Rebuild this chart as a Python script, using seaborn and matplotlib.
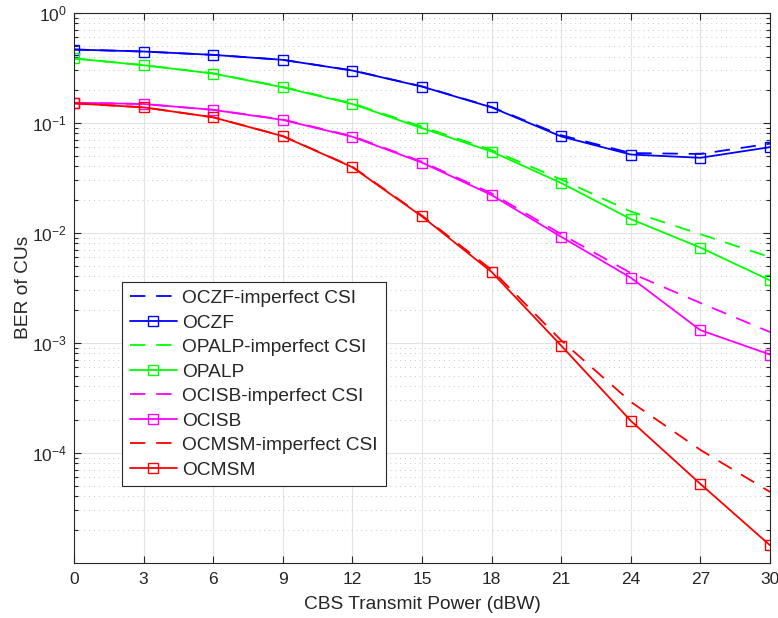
import numpy as np
import pandas as pd
import matplotlib
matplotlib.use("Agg")
import matplotlib.pyplot as plt
import matplotlib.ticker as mticker
import seaborn as sns

# Data
power = [0, 3, 6, 9, 12, 15, 18, 21, 24, 27, 30]

oczf_imp = [0.463, 0.444, 0.414, 0.373, 0.299, 0.214, 0.139, 0.077, 0.053, 0.052, 0.0645]
oczf = [0.463, 0.444, 0.414, 0.373, 0.298, 0.213, 0.138, 0.075, 0.0514, 0.048, 0.060]
opalp_imp = [0.384, 0.334, 0.281, 0.212, 0.150, 0.092, 0.0565, 0.0305, 0.0156, 0.0097, 0.0060]
opalp = [0.384, 0.333, 0.280, 0.210, 0.148, 0.0893, 0.0547, 0.0283, 0.0133, 0.00733, 0.00369]
ocisb_imp = [0.152, 0.148, 0.131, 0.107, 0.0755, 0.0442, 0.0228, 0.0097, 0.0043, 0.0023, 0.00125]
ocisb = [0.152, 0.148, 0.131, 0.106, 0.0745, 0.0434, 0.022, 0.00918, 0.0039, 0.0013, 0.00078]
ocmsm_imp = [0.150, 0.138, 0.112, 0.0758, 0.0398, 0.0143, 0.0046, 0.00105, 2.9e-4, 1.06e-4, 4.4e-5]
ocmsm = [0.150, 0.138, 0.112, 0.0755, 0.0394, 0.01406, 0.0044, 0.00094, 1.95e-4, 5.2e-5, 1.44e-5]

series = [
    ("OCZF-imperfect CSI", oczf_imp, "#0000ff", False),
    ("OCZF", oczf, "#0000ff", True),
    ("OPALP-imperfect CSI", opalp_imp, "#00ff00", False),
    ("OPALP", opalp, "#00ff00", True),
    ("OCISB-imperfect CSI", ocisb_imp, "#ff00ff", False),
    ("OCISB", ocisb, "#ff00ff", True),
    ("OCMSM-imperfect CSI", ocmsm_imp, "#ff0000", False),
    ("OCMSM", ocmsm, "#ff0000", True),
]

sns.set_theme(style="white")
plt.rcParams["font.family"] = ["Liberation Sans", "DejaVu Sans"]
plt.rcParams["mathtext.fontset"] = "custom"
plt.rcParams["mathtext.rm"] = "Liberation Sans"
plt.rcParams["mathtext.it"] = "Liberation Sans:italic"

fig = plt.figure(figsize=(7.78, 6.18), dpi=100)
ax = fig.add_axes([0.0951, 0.0895, 0.8946, 0.8899])

for name, vals, color, solid in series:
    df = pd.DataFrame({"power": power, "ber": vals})
    if solid:
        sns.lineplot(data=df, x="power", y="ber", ax=ax, color=color, lw=1.3,
                     marker="s", markersize=6.5, markerfacecolor="none",
                     markeredgecolor=color, markeredgewidth=1.0, label=name)
    else:
        sns.lineplot(data=df, x="power", y="ber", ax=ax, color=color, lw=1.3,
                     linestyle=(0, (8.5, 6)), label=name)

ax.set_yscale("log")
ax.set_xlim(0, 30)
ax.set_ylim(1e-5, 1)
ax.set_xticks(power)
ax.yaxis.set_major_locator(mticker.FixedLocator([1e0, 1e-1, 1e-2, 1e-3, 1e-4]))
ax.yaxis.set_major_formatter(mticker.LogFormatterSciNotation())
ax.yaxis.set_minor_locator(mticker.LogLocator(base=10, subs=np.arange(2, 10), numticks=20))
ax.yaxis.set_minor_formatter(mticker.NullFormatter())

ax.grid(True, which="major", color="#e3e3e3", lw=0.8)
ax.grid(True, which="minor", axis="y", color="#c8c8c8", lw=0.7, linestyle=(0, (1, 4)))
ax.set_axisbelow(True)

for s in ax.spines.values():
    s.set_color("#262626")
    s.set_linewidth(0.8)
ax.tick_params(which="both", direction="in", top=True, right=True, bottom=True, left=True,
               colors="#262626", labelsize=12.5, width=0.8)
ax.tick_params(which="major", length=5)
ax.tick_params(which="minor", length=3)
ax.tick_params(axis="x", pad=7)
ax.tick_params(axis="y", pad=5)

ax.set_xlabel("CBS Transmit Power (dBW)", fontsize=13.8, color="#262626", labelpad=6)
ax.set_ylabel("BER of CUs", fontsize=13.8, color="#262626", labelpad=0)

leg = ax.legend(loc="lower left", bbox_to_anchor=(0.069, 0.139), borderaxespad=0,
                fontsize=13.8, frameon=True, fancybox=False, framealpha=1,
                edgecolor="#262626", handlelength=2.45, labelspacing=0.37,
                handletextpad=0.3, borderpad=0.4)
leg.get_frame().set_linewidth(0.8)

fig.savefig("out.png", dpi=100)
